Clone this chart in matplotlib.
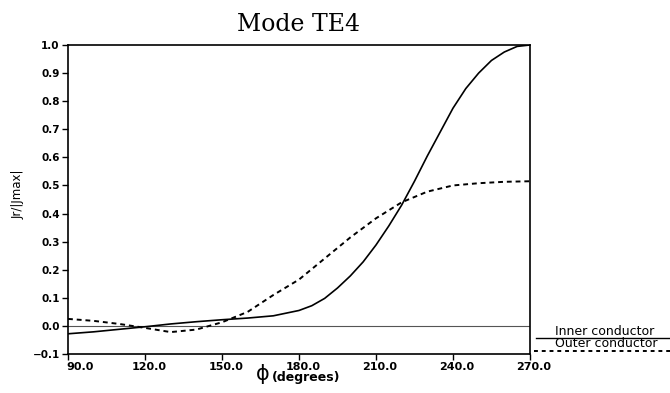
import matplotlib
matplotlib.use("Agg")
import matplotlib.pyplot as plt
from matplotlib.lines import Line2D
import matplotlib.transforms as mtransforms

phi_inner = [90, 100, 110, 120, 130, 140, 150, 160, 170, 180, 185, 190, 195, 200, 205,
             210, 215, 220, 225, 230, 235, 240, 245, 250, 255, 260, 265, 270]
j_inner = [-0.028, -0.021, -0.012, -0.003, 0.007, 0.015, 0.022, 0.028, 0.036, 0.055, 0.072,
           0.098, 0.135, 0.178, 0.228, 0.288, 0.356, 0.43, 0.515, 0.605, 0.69, 0.775, 0.845,
           0.9, 0.945, 0.975, 0.995, 1.0]

phi_outer = [90, 100, 110, 120, 130, 140, 145, 150, 160, 170, 180, 190, 200, 210, 220,
             230, 240, 250, 260, 270]
j_outer = [0.025, 0.018, 0.007, -0.007, -0.022, -0.013, 0.0, 0.013, 0.05, 0.11, 0.165,
           0.24, 0.315, 0.383, 0.44, 0.478, 0.5, 0.508, 0.513, 0.515]

xticks = [90.0, 120.0, 150.0, 180.0, 210.0, 240.0, 270.0]
yticks = [-0.1, 0.0, 0.1, 0.2, 0.3, 0.4, 0.5, 0.6, 0.7, 0.8, 0.9, 1.0]

fig = plt.figure(figsize=(6.7, 3.93), dpi=100)
ax = fig.add_axes([0.1015, 0.0992, 0.6895, 0.7863])

ax.axhline(0.0, color="#555555", lw=0.8)
ax.plot(phi_inner, j_inner, color="black", lw=1.2)
ax.plot(phi_outer, j_outer, color="black", lw=1.4, ls=(0, (2.5, 2)))

ax.set_xlim(90, 270)
ax.set_ylim(-0.1, 1.0)
ax.set_xticks(xticks)
ax.set_xticklabels([f"{t:.1f}" for t in xticks], fontweight="bold", fontsize=8)
ax.set_yticks(yticks)
ax.set_yticklabels([f"{t:.1f}".replace("-", "\u2212") for t in yticks], fontweight="bold", fontsize=7.5)
ax.tick_params(direction="out", length=4, width=1, pad=2)
shift = mtransforms.ScaledTranslation(4 / 100, 0, fig.dpi_scale_trans)
for lab in ax.get_xticklabels():
    lab.set_transform(lab.get_transform() + shift)
ax.get_xticklabels()[0].set_transform(ax.get_xticklabels()[0].get_transform()
                                      + mtransforms.ScaledTranslation(8 / 100, 0, fig.dpi_scale_trans))
for s in ax.spines.values():
    s.set_linewidth(1.2)

ax.set_ylabel("Jr/|Jmax|", fontsize=8.5)
ax.yaxis.set_label_coords(-0.093, 0.518)
ax.set_title("Mode TE4", fontsize=17, family="DejaVu Serif", pad=10)
fig.text(0.403, 0.022, "\u03d5", fontsize=15, ha="right", va="bottom")
fig.text(0.406, 0.022, "(degrees)", fontsize=9, fontweight="bold", ha="left", va="bottom")

# legend-like annotations at right
fig.text(0.903, 0.148, "Inner conductor", fontsize=9, ha="center", va="baseline")
fig.add_artist(Line2D([0.80, 1.0], [0.141, 0.141], color="black", lw=1.0, transform=fig.transFigure))
fig.text(0.905, 0.117, "Outer conductor", fontsize=9, ha="center", va="baseline")
fig.add_artist(Line2D([0.797, 1.0], [0.107, 0.107], color="black", lw=1.4, ls=(0, (2, 2)), transform=fig.transFigure))

fig.savefig("out.png", dpi=100)
